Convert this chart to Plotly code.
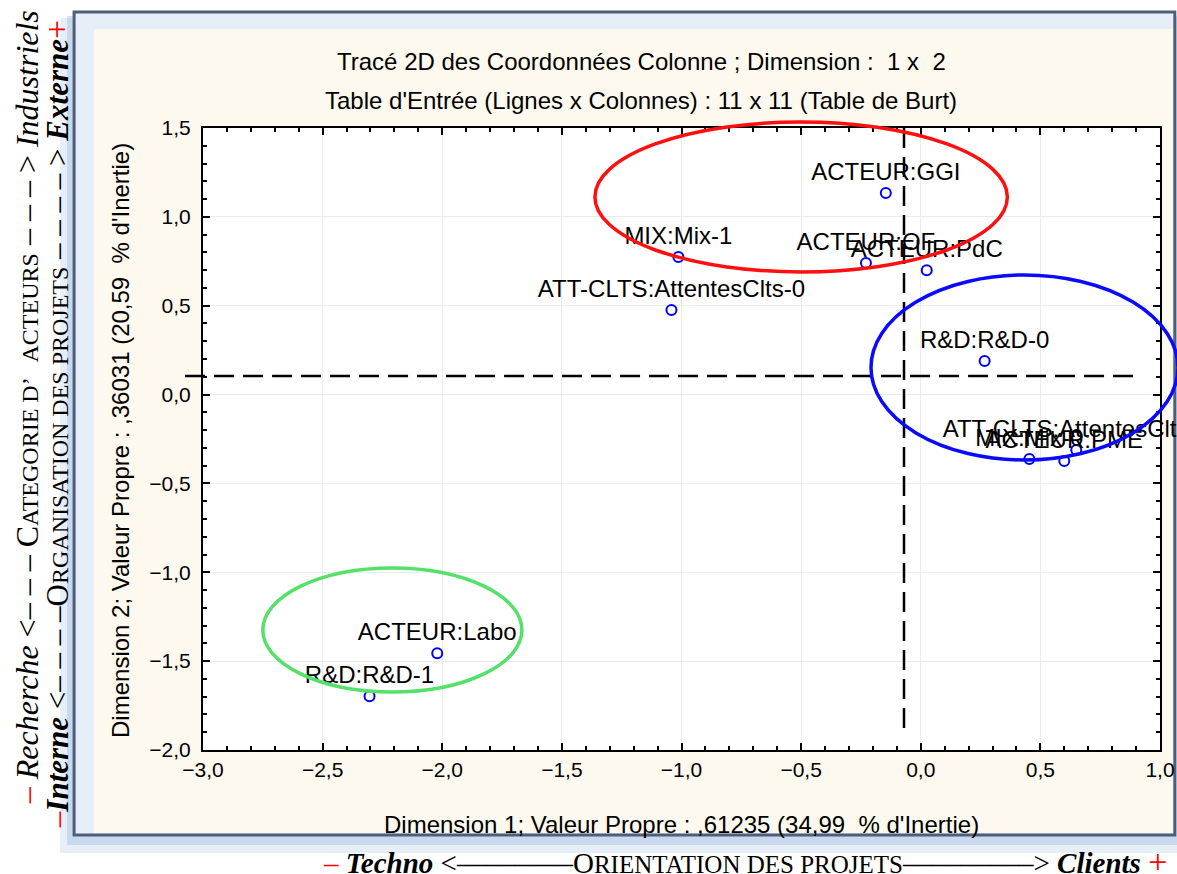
import plotly.graph_objects as go

# ---------------- data ----------------
labels = ["ACTEUR:GGI", "MIX:Mix-1", "ACTEUR:OF", "ACTEUR:PdC",
          "ATT-CLTS:AttentesClts-0", "R&D:R&D-0", "MIX:Mix-0", "ACTEUR:PME",
          "ATT-CLTS:AttentesClts-1", "ACTEUR:Labo", "R&D:R&D-1"]
dim1 = [-0.146, -1.013, -0.229, 0.025, -1.042, 0.267, 0.454, 0.600, 0.650, -2.021, -2.304]
dim2 = [1.134, 0.774, 0.741, 0.700, 0.476, 0.189, -0.362, -0.374, -0.312, -1.455, -1.697]

x_ticks = [-3.0, -2.5, -2.0, -1.5, -1.0, -0.5, 0.0, 0.5, 1.0]
y_ticks = [-2.0, -1.5, -1.0, -0.5, 0.0, 0.5, 1.0, 1.5]

# reference lines (x = vertical dashed, y = horizontal dashed)
vline_x = -0.07
vline_y = [-1.876, 1.545]
hline_y = 0.105
hline_x = [-3.075, 0.912]

# hand drawn groups: (x0, x1, y0, y1, colour)
groups_x0 = [-1.362, -0.208, -2.75]
groups_x1 = [0.362, 1.075, -1.667]
groups_y0 = [0.690, -0.368, -1.674]
groups_y1 = [1.534, 0.673, -0.976]
groups_col = ["#ff1010", "#0a0aff", "#55e06a"]

XR = [-3.0, 1.0]
YR = [-2.0, 1.5]

# ---------------- layout geometry ----------------
REF_W = 1177
SX = 1187 / 1177          # horizontal compensation of the capture
W, H = round(REF_W * SX), 874
ML, MR, MT, MB = round(201 * SX), round(16 * SX), 128, 124
PW, PH = W - ML - MR, H - MT - MB


def ppx(px):  # reference pixel -> paper x
    return (px * SX - ML) / PW


def ppy(py):  # reference pixel -> paper y
    return (H - MB - py) / PH


def dx(v):  # data -> paper x
    return (v - XR[0]) / (XR[1] - XR[0])


def dy(v):  # data -> paper y
    return (v - YR[0]) / (YR[1] - YR[0])


fig = go.Figure()
fig.add_trace(go.Scatter(
    x=dim1, y=dim2, mode="markers+text", text=labels,
    textposition="top center", cliponaxis=False,
    marker=dict(symbol="circle-open", size=10, color="#0000ff",
                line=dict(width=2, color="#0000ff")),
    textfont=dict(family="Liberation Sans, Arial", size=24, color="black"),
    hoverinfo="skip", showlegend=False))

shapes = []
# shadow / window frame
shapes.append(dict(type="rect", xref="paper", yref="paper", layer="below",
                   x0=ppx(58), x1=ppx(1195), y0=ppy(853), y1=ppy(18),
                   fillcolor="rgba(205,222,242,0.5)", line=dict(width=0)))
shapes.append(dict(type="rect", xref="paper", yref="paper", layer="below",
                   x0=ppx(65), x1=ppx(1195), y0=ppy(845), y1=ppy(16),
                   fillcolor="rgba(170,196,228,0.5)", line=dict(width=0)))
shapes.append(dict(type="rect", xref="paper", yref="paper", layer="below",
                   x0=ppx(72), x1=ppx(1176), y0=ppy(835), y1=ppy(12),
                   fillcolor="#e6eef7", line=dict(color="#4e5e7a", width=3)))
shapes.append(dict(type="rect", xref="paper", yref="paper", layer="below",
                   x0=ppx(92), x1=ppx(1174), y0=ppy(833), y1=ppy(29),
                   fillcolor="#fdf9ee", line=dict(width=0)))
shapes.append(dict(type="rect", xref="paper", yref="paper", layer="below",
                   x0=0, x1=1, y0=0, y1=1, fillcolor="white", line=dict(width=0)))

# dashed reference lines
shapes.append(dict(type="line", xref="paper", yref="paper",
                   x0=dx(vline_x), x1=dx(vline_x), y0=dy(vline_y[0]), y1=dy(vline_y[1]),
                   line=dict(color="black", width=2.5, dash="20px,9px")))
shapes.append(dict(type="line", xref="paper", yref="paper",
                   x0=dx(hline_x[0]), x1=dx(hline_x[1]), y0=dy(hline_y), y1=dy(hline_y),
                   line=dict(color="black", width=2.5, dash="20px,9px")))

# ellipses
for x0, x1, y0, y1, c in zip(groups_x0, groups_x1, groups_y0, groups_y1, groups_col):
    shapes.append(dict(type="circle", xref="paper", yref="paper",
                       x0=dx(x0), x1=dx(x1), y0=dy(y0), y1=dy(y1),
                       line=dict(color=c, width=3.5)))

axis_font = dict(family="Liberation Sans, Arial", size=24, color="black")
annotations = [
    dict(text="Tracé 2D des Coordonnées Colonne ; Dimension :  1 x  2",
         xref="paper", yref="paper", x=ppx(641), y=ppy(62), showarrow=False,
         xanchor="center", yanchor="middle", font=axis_font),
    dict(text="Table d'Entrée (Lignes x Colonnes) : 11 x 11 (Table de Burt)",
         xref="paper", yref="paper", x=ppx(641), y=ppy(100), showarrow=False,
         xanchor="center", yanchor="middle", font=axis_font),
    dict(text="Dimension 1; Valeur Propre : ,61235 (34,99  % d'Inertie)",
         xref="paper", yref="paper", x=ppx(681), y=ppy(824), showarrow=False,
         xanchor="center", yanchor="middle", font=axis_font),
    dict(text="Dimension 2; Valeur Propre : ,36031 (20,59  % d'Inertie)",
         xref="paper", yref="paper", x=ppx(118), y=ppy(440), showarrow=False,
         textangle=-90, xanchor="center", yanchor="middle", font=axis_font),
]

RED = "#ff0000"
serif = "Liberation Serif, Times New Roman, serif"
sm = 'style="font-size:25px"'
dashL = "––––––––"
dashR = "–––––––––"
bottom_txt = (f'<span style="color:{RED}">–</span> <b><i>Techno</i></b> &lt;{dashL}O'
              f'<span {sm}>RIENTATION DES PROJETS</span>{dashR}&gt; <b><i>Clients</i></b> '
              f'<span style="color:{RED};font-size:34px">+</span>')
annotations.append(dict(text=bottom_txt, xref="paper", yref="paper",
                        x=ppx(745), y=ppy(861), showarrow=False,
                        xanchor="center", yanchor="middle",
                        font=dict(family=serif, size=29, color="black")))

sm2 = 'style="font-size:24px"'
left1 = (f'<span style="color:{RED}">–</span> <i>Recherche</i> &lt;– – – C'
         f'<span {sm2}>ATEGORIE D’   ACTEURS</span> – – – &gt; <i>Industriels</i>')
left2 = (f'<span style="color:{RED}">–</span><b><i>Interne</i></b> &lt;– – – –O'
         f'<span {sm2}>RGANISATION DES PROJETS</span> – – – – &gt; <b><i>Externe</i></b>'
         f'<span style="color:{RED};font-size:34px">+</span>')
annotations.append(dict(text=left1, xref="paper", yref="paper",
                        x=ppx(25), y=ppy(407), showarrow=False, textangle=-90,
                        xanchor="center", yanchor="middle",
                        font=dict(family=serif, size=32, color="black")))
annotations.append(dict(text=left2, xref="paper", yref="paper",
                        x=ppx(54), y=ppy(424), showarrow=False, textangle=-90,
                        xanchor="center", yanchor="middle",
                        font=dict(family=serif, size=31, color="black")))

tick_font = dict(family="Liberation Sans, Arial", size=21, color="black")
fig.update_layout(
    width=W, height=H, autosize=False,
    margin=dict(l=ML, r=MR, t=MT, b=MB),
    paper_bgcolor="white", plot_bgcolor="white",
    separators=", ",
    shapes=shapes, annotations=annotations,
    xaxis=dict(range=XR, tickvals=x_ticks, tickformat=".1f",
               showline=True, linecolor="black", linewidth=2, mirror="ticks",
               ticks="inside", ticklen=7, tickcolor="black", tickwidth=1.5,
               minor=dict(dtick=0.1, ticks="inside", ticklen=4, tickcolor="black", showgrid=False),
               showgrid=True, gridcolor="#ececec", gridwidth=1, zeroline=False,
               tickfont=tick_font, fixedrange=True),
    yaxis=dict(range=YR, tickvals=y_ticks, tickformat=".1f",
               showline=True, linecolor="black", linewidth=2, mirror="ticks",
               ticks="inside", ticklen=7, tickcolor="black", tickwidth=1.5,
               minor=dict(dtick=0.1, ticks="inside", ticklen=4, tickcolor="black", showgrid=False),
               showgrid=True, gridcolor="#ececec", gridwidth=1, zeroline=False,
               tickfont=tick_font, ticklabelstandoff=6, fixedrange=True),
)

post = ("document.documentElement.style.overflow='hidden';"
        "document.body.style.margin='0px';"
        "document.body.style.overflow='hidden';")

fig.write_html("out.html", config={"displayModeBar": False, "responsive": False},
               post_script=post)
